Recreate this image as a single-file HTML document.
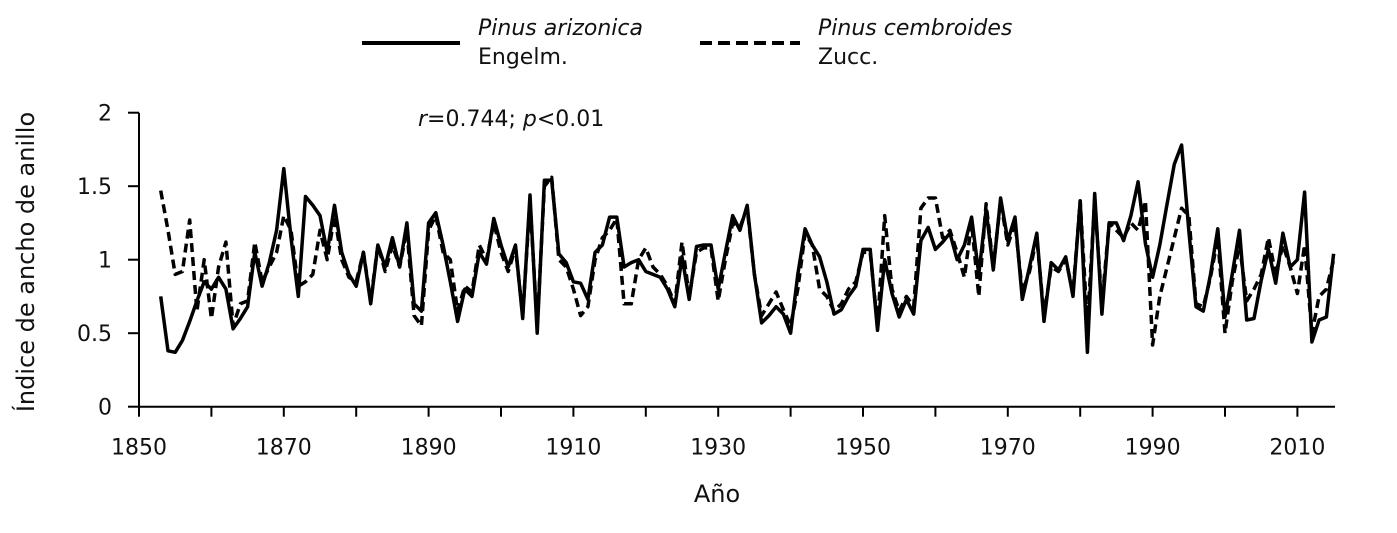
<!DOCTYPE html>
<html><head><meta charset="utf-8"><style>
body{margin:0;background:#fff;}
svg text{font-family:"DejaVu Sans","Liberation Sans",sans-serif;fill:#111;}
</style></head><body>
<svg id="chart" width="1397" height="528" viewBox="0 0 1397 528" xmlns="http://www.w3.org/2000/svg">
<g>
 <line x1="362" y1="43" x2="460" y2="43" stroke="#000" stroke-width="4"/>
 <text x="478" y="35" font-size="22" font-style="italic">Pinus arizonica</text>
 <text x="478" y="64" font-size="22">Engelm.</text>
 <line x1="700" y1="43" x2="800" y2="43" stroke="#000" stroke-width="4" stroke-dasharray="12,6"/>
 <text x="818" y="35" font-size="22" font-style="italic">Pinus cembroides</text>
 <text x="818" y="64" font-size="22">Zucc.</text>
</g>
<text x="418" y="126" font-size="22"><tspan font-style="italic">r</tspan>=0.744; <tspan font-style="italic">p</tspan>&lt;0.01</text>
<text transform="translate(34,262) rotate(-90)" text-anchor="middle" font-size="24">Índice de ancho de anillo</text>
<text x="717" y="502" text-anchor="middle" font-size="24">Año</text>
<g id="axes"></g>
<g id="series"></g>
</svg>
<script>
const startYear = 1853;
const xTickLabels = [1850,1870,1890,1910,1930,1950,1970,1990,2010];
const yTickLabels = [0,0.5,1,1.5,2];
const arizonica = [0.75,0.38,0.37,0.45,0.58,0.72,0.85,0.80,0.88,0.80,0.53,0.60,0.68,1.05,0.82,0.98,1.20,1.62,1.15,0.75,1.43,1.37,1.30,1.05,1.37,1.05,0.90,0.82,1.05,0.70,1.10,0.95,1.15,0.95,1.25,0.70,0.65,1.25,1.32,1.10,0.85,0.58,0.80,0.75,1.05,0.97,1.28,1.10,0.95,1.10,0.60,1.44,0.50,1.54,1.54,1.04,0.98,0.85,0.84,0.73,1.05,1.10,1.29,1.29,0.95,0.98,1.00,0.92,0.90,0.88,0.80,0.68,1.02,0.73,1.09,1.10,1.10,0.80,1.05,1.30,1.20,1.37,0.90,0.57,0.62,0.68,0.63,0.50,0.90,1.21,1.10,1.02,0.85,0.63,0.66,0.75,0.82,1.07,1.07,0.52,1.00,0.77,0.61,0.73,0.63,1.13,1.22,1.07,1.12,1.18,1.00,1.10,1.29,0.90,1.34,0.93,1.42,1.13,1.29,0.73,0.95,1.18,0.58,0.98,0.93,1.02,0.75,1.40,0.37,1.45,0.63,1.25,1.25,1.13,1.30,1.53,1.11,0.88,1.10,1.38,1.65,1.78,1.20,0.68,0.65,0.90,1.21,0.61,0.90,1.20,0.59,0.60,0.86,1.07,0.84,1.18,0.95,1.00,1.46,0.44,0.59,0.61,1.04];
const cembroides = [1.47,1.20,0.90,0.92,1.27,0.65,1.00,0.60,0.95,1.12,0.55,0.70,0.72,1.12,0.85,0.95,1.05,1.30,1.20,0.82,0.85,0.90,1.20,1.00,1.30,1.00,0.88,0.85,1.05,0.72,1.10,0.92,1.10,0.95,1.20,0.62,0.55,1.20,1.30,1.05,1.00,0.65,0.82,0.78,1.10,1.00,1.25,1.05,0.92,1.08,0.62,1.40,0.55,1.50,1.56,1.00,0.95,0.80,0.62,0.68,1.00,1.15,1.20,1.28,0.70,0.70,1.00,1.08,0.95,0.90,0.82,0.70,1.12,0.75,1.05,1.08,1.08,0.72,1.00,1.25,1.22,1.35,0.90,0.62,0.70,0.78,0.66,0.55,0.80,1.18,1.10,0.80,0.75,0.65,0.70,0.80,0.85,1.05,1.05,0.55,1.30,0.80,0.65,0.75,0.68,1.35,1.42,1.42,1.15,1.20,1.05,0.88,1.25,0.75,1.38,0.95,1.40,1.10,1.25,0.78,0.92,1.15,0.62,0.95,0.92,1.00,0.78,1.40,0.55,1.40,0.70,1.25,1.20,1.15,1.25,1.20,1.40,0.42,0.75,0.95,1.15,1.35,1.30,0.70,0.68,0.88,1.15,0.50,0.85,1.10,0.72,0.80,0.90,1.15,0.90,1.10,0.95,0.77,1.10,0.50,0.75,0.80,1.00];

const NS='http://www.w3.org/2000/svg';
const x0=139, pxYear=7.24, y0=406.7, pxUnit=147;
const xs=yr=>x0+(yr-1850)*pxYear;
const ys=v=>y0-v*pxUnit;
function mk(tag,attrs,parent){const e=document.createElementNS(NS,tag);for(const k in attrs)e.setAttribute(k,attrs[k]);parent.appendChild(e);return e;}
const axes=document.getElementById('axes');
const xAxis=mk('line',{x1:x0,y1:y0,x2:1335,y2:y0,stroke:'#000','stroke-width':2},axes);


const yAxis=mk('line',{x1:x0,y1:ys(2),x2:x0,y2:y0,stroke:'#000','stroke-width':2},axes);


for(let yr=1850;yr<=2010;yr+=10){
  const t=mk('line',{x1:xs(yr),y1:y0,x2:xs(yr),y2:y0+10,stroke:'#000','stroke-width':2},axes);
  
  
}
xTickLabels.forEach(yr=>{
  const t=mk('text',{x:xs(yr),y:y0+48,'text-anchor':'middle','font-size':22},axes);
  t.textContent=yr;
  
  
});
yTickLabels.forEach(v=>{
  const l=mk('line',{x1:x0-11,y1:ys(v),x2:x0,y2:ys(v),stroke:'#000','stroke-width':2},axes);
  
  
  const t=mk('text',{x:112,y:ys(v)+8,'text-anchor':'end','font-size':22},axes);
  t.textContent=v;
  
  
});
const series=document.getElementById('series');
function pts(arr){return arr.map((v,i)=>xs(startYear+i).toFixed(1)+','+ys(v).toFixed(1)).join(' ');}
const pc=mk('polyline',{points:pts(cembroides),fill:'none',stroke:'#000','stroke-width':3.5,'stroke-dasharray':'9,5','stroke-linejoin':'round'},series);


const pa=mk('polyline',{points:pts(arizonica),fill:'none',stroke:'#000','stroke-width':3.5,'stroke-linejoin':'round'},series);


</script>
</body></html>
